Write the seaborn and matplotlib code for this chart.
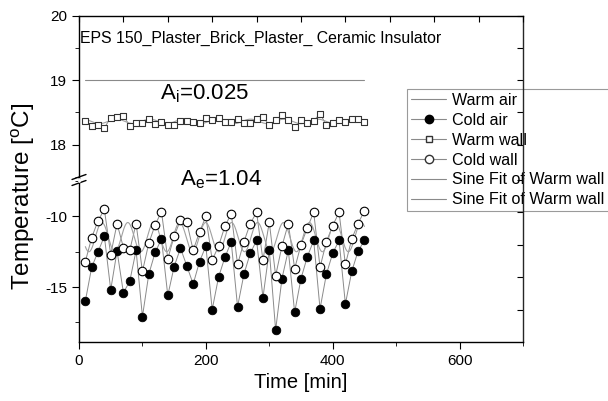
import numpy as np
import matplotlib
matplotlib.use("Agg")
import matplotlib.pyplot as plt
import seaborn as sns
from matplotlib.lines import Line2D
from matplotlib.ticker import MultipleLocator

# data (time in minutes, temperatures in degC)
time_min = [10, 20, 30, 40, 50, 60, 70, 80, 90, 100, 110, 120, 130, 140, 150,
            160, 170, 180, 190, 200, 210, 220, 230, 240, 250, 260, 270, 280, 290, 300,
            310, 320, 330, 340, 350, 360, 370, 380, 390, 400, 410, 420, 430, 440, 450]
warm_air_level = 19.0
warm_wall = [18.37, 18.29, 18.30, 18.26, 18.42, 18.43, 18.45, 18.29, 18.33, 18.34,
             18.39, 18.32, 18.355, 18.30, 18.30, 18.37, 18.37, 18.355, 18.33, 18.41,
             18.38, 18.42, 18.355, 18.355, 18.39, 18.34, 18.33, 18.40, 18.43, 18.30,
             18.38, 18.46, 18.38, 18.27, 18.38, 18.33, 18.37, 18.48, 18.30, 18.33,
             18.38, 18.355, 18.39, 18.39, 18.355]
cold_wall = [-13.2, -11.5, -10.3, -9.5, -12.7, -10.5, -12.2, -12.4, -10.5, -13.9,
             -11.9, -10.6, -9.66, -13.0, -11.4, -10.25, -10.4, -12.4, -11.1, -10.0,
             -13.1, -12.1, -10.7, -9.8, -13.4, -11.8, -10.5, -9.7, -13.1, -10.4,
             -14.2, -12.1, -10.5, -13.7, -12.0, -10.8, -9.7, -13.6, -11.8, -10.65,
             -9.7, -13.4, -11.6, -10.5, -9.6]
cold_air = [-16.0, -13.6, -12.5, -11.4, -15.2, -12.45, -15.4, -14.6, -12.4, -17.1,
            -14.1, -12.55, -11.6, -15.6, -13.55, -12.25, -13.5, -14.8, -13.2, -12.1,
            -16.6, -14.3, -12.9, -11.8, -16.4, -14.1, -12.6, -11.7, -15.75, -12.4,
            -18.05, -14.4, -12.4, -16.8, -14.4, -12.85, -11.7, -16.55, -14.1, -12.6,
            -11.7, -16.2, -13.9, -12.45, -11.7]

title_text = "EPS 150_Plaster_Brick_Plaster_ Ceramic Insulator"
amp_inner = "A$_\\mathrm{i}$=0.025"
amp_outer = "A$_\\mathrm{e}$=1.04"


def sine_fit(t, y):
    # least squares sine fit, period found by scanning
    t = np.asarray(t, float)
    y = np.asarray(y, float)
    best = None
    for p in np.linspace(25, 120, 951):
        w = 2 * np.pi / p
        X = np.column_stack([np.ones_like(t), np.sin(w * t), np.cos(w * t)])
        coef, *_ = np.linalg.lstsq(X, y, rcond=None)
        sse = np.sum((X @ coef - y) ** 2)
        if best is None or sse < best[0]:
            best = (sse, w, coef)
    _, w, c = best
    tt = np.linspace(t.min(), t.max(), 600)
    return tt, c[0] + c[1] * np.sin(w * tt) + c[2] * np.cos(w * tt)


sns.set_style("ticks")
plt.rcParams["font.family"] = ["Liberation Sans", "DejaVu Sans"]
plt.rcParams["mathtext.fontset"] = "custom"
plt.rcParams["mathtext.rm"] = "Liberation Sans"
plt.rcParams["mathtext.it"] = "Liberation Sans"
plt.rcParams["axes.unicode_minus"] = False
for k in ("text.color", "xtick.color", "ytick.color", "axes.labelcolor"):
    plt.rcParams[k] = "black"

W, H = 608, 401
fig = plt.figure(figsize=(W / 100, H / 100), dpi=100)
left, right = 79 / W, 523 / W
y_top, y_mid, y_bot = 1 - 16 / H, 1 - 178 / H, 1 - 342 / H
ax_top = fig.add_axes([left, y_mid, right - left, y_top - y_mid])
ax_bot = fig.add_axes([left, y_bot, right - left, y_mid - y_bot])

grey = "#8a8a8a"
lw = 0.7

# upper panel
ax_top.plot([time_min[0], time_min[-1]], [warm_air_level, warm_air_level], color=grey, lw=0.8)
tt, fit_w = sine_fit(time_min, warm_wall)
sns.lineplot(x=time_min, y=warm_wall, ax=ax_top, color=grey, lw=lw)
sns.lineplot(x=tt, y=fit_w, ax=ax_top, color="#a0a0a0", lw=0.8)
sns.scatterplot(x=time_min, y=warm_wall, ax=ax_top, marker="s", s=24,
                facecolor="white", edgecolor="#333333", linewidth=0.8, zorder=3)

# lower panel
tt, fit_c = sine_fit(time_min, cold_wall)
sns.lineplot(x=time_min, y=cold_air, ax=ax_bot, color=grey, lw=lw)
sns.lineplot(x=time_min, y=cold_wall, ax=ax_bot, color=grey, lw=lw)
sns.lineplot(x=tt, y=fit_c, ax=ax_bot, color="#a0a0a0", lw=0.8)
sns.scatterplot(x=time_min, y=cold_air, ax=ax_bot, marker="o", s=38,
                color="black", edgecolor="black", linewidth=0.6, zorder=3)
sns.scatterplot(x=time_min, y=cold_wall, ax=ax_bot, marker="o", s=38,
                facecolor="white", edgecolor="black", linewidth=0.8, zorder=4)

for ax in (ax_top, ax_bot):
    ax.set_xlim(0, 700)
    ax.set_xlabel("")
    ax.set_ylabel("")
    ax.patch.set_visible(False)
    ax.spines["right"].set_visible(False)
    for s in ax.spines.values():
        s.set_linewidth(1.0)
        s.set_color("black")

ax_top.set_ylim(17.48, 20)
ax_top.spines["bottom"].set_visible(False)
ax_top.yaxis.set_major_locator(MultipleLocator(1))
ax_top.yaxis.set_minor_locator(MultipleLocator(0.5))
ax_top.xaxis.set_ticks_position("top")
ax_top.xaxis.set_major_locator(MultipleLocator(70))
ax_top.tick_params(axis="x", which="both", direction="in", length=4, labeltop=False)
ax_top.tick_params(axis="y", which="major", direction="out", length=5, labelsize=11)
ax_top.tick_params(axis="y", which="minor", direction="out", length=3)

ax_bot.set_ylim(-18.9, -7.27)
ax_bot.spines["top"].set_visible(False)
ax_bot.yaxis.set_major_locator(MultipleLocator(5))
ax_bot.yaxis.set_minor_locator(MultipleLocator(2.5))
ax_bot.xaxis.set_major_locator(MultipleLocator(200))
ax_bot.xaxis.set_minor_locator(MultipleLocator(100))
ax_bot.tick_params(axis="both", which="major", direction="out", length=5, labelsize=11)
ax_bot.tick_params(axis="both", which="minor", direction="out", length=3)

# right axes with inward ticks, no labels
sec_t = ax_top.secondary_yaxis("right")
sec_t.set_yticks([18, 18.5, 19, 19.5, 20])
sec_b = ax_bot.secondary_yaxis("right")
sec_b.set_yticks([-7.4, -9.7, -12.0, -14.3, -16.6])
for sec in (sec_t, sec_b):
    sec.tick_params(direction="in", length=4, labelright=False)
    sec.spines["right"].set_linewidth(1.0)

# axis break marks on the left spine
for yy in (177, 183):
    fig.add_artist(Line2D([72 / W, 86 / W], [1 - (yy + 2.5) / H, 1 - (yy - 2.5) / H],
                          transform=fig.transFigure, color="black", lw=1.0))
fig.add_artist(Line2D([left, left], [1 - 179 / H, 1 - 181.5 / H],
                      transform=fig.transFigure, color="white", lw=2.0))

# text
fig.text(80 / W, 1 - 38 / H, title_text, fontsize=11.4, ha="left", va="center")
fig.text(160 / W, 1 - 94 / H, amp_inner, fontsize=16, ha="left", va="center")
fig.text(180 / W, 1 - 180 / H, amp_outer, fontsize=16, ha="left", va="center")
fig.text(23 / W, 1 - 196 / H, "Temperature [$^\\mathrm{o}$C]", fontsize=17.5,
         rotation=90, ha="center", va="center")
fig.text(301 / W, 1 - 383 / H, "Time [min]", fontsize=14.5, ha="center", va="center")

handles = [
    Line2D([], [], color=grey, lw=0.8),
    Line2D([], [], color=grey, lw=0.8, marker="o", markersize=6,
           markerfacecolor="black", markeredgecolor="black"),
    Line2D([], [], color=grey, lw=0.8, marker="s", markersize=5,
           markerfacecolor="white", markeredgecolor="#333333"),
    Line2D([], [], color=grey, lw=0.8, marker="o", markersize=6,
           markerfacecolor="white", markeredgecolor="#333333"),
    Line2D([], [], color=grey, lw=0.8),
    Line2D([], [], color=grey, lw=0.8),
]
labels = ["Warm air", "Cold air", "Warm wall", "Cold wall",
          "Sine Fit of Warm wall", "Sine Fit of Warm wall"]
leg = fig.legend(handles, labels, loc="upper left", bbox_to_anchor=(407 / W, 1 - 89 / H),
                 fontsize=11.6, frameon=True, fancybox=False, edgecolor="#9a9a9a",
                 framealpha=1, handlelength=2.2, handletextpad=0.35, labelspacing=0.3,
                 borderpad=0.25, borderaxespad=0)
leg.get_frame().set_linewidth(0.8)
leg.set_zorder(-1)

fig.savefig("out.png", dpi=100)
